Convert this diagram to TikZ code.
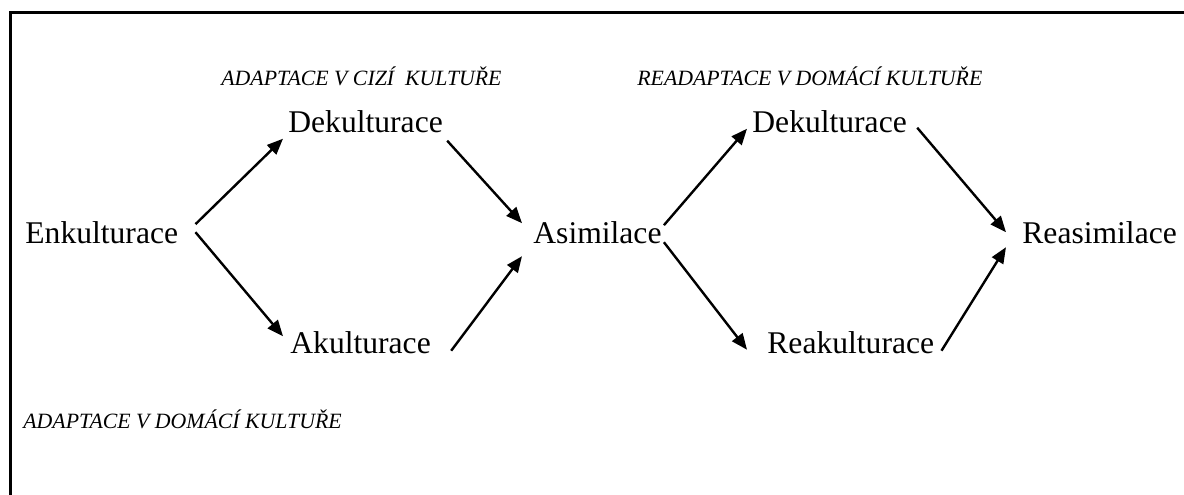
\documentclass[tikz,border=0pt]{standalone}
\usepackage{fontspec}
\setmainfont{Liberation Serif}
\usetikzlibrary{arrows.meta,calc}

\tikzset{
	stage/.style={anchor=base west, inner sep=0pt, font=\fontsize{15.8}{19}\selectfont},
	phase/.style={anchor=base west, inner sep=0pt, font=\fontsize{10.9}{13}\selectfont\itshape},
	arr/.style={line width=1.2pt, -{Triangle[length=8pt,width=6.5pt]}}
}

\begin{document}
\begin{tikzpicture}[x=0.5pt, y=-0.5pt]
	\clip (0,0) rectangle (1184,494);
	% frame
	\draw[line width=1.5pt] (10,12) rectangle (1220,530);
	% phases
	\node[phase] (cizi) at (221,85) {ADAPTACE V CIZÍ\ \ KULTUŘE};
	\node[phase] (readapt) at (637,85) {READAPTACE V DOMÁCÍ KULTUŘE};
	\node[phase] (domaci) at (23,428) {ADAPTACE V DOMÁCÍ KULTUŘE};
	% stages
	\node[stage] (enk) at (25,243) {Enkulturace};
	\node[stage] (dek) at (288,132) {Dekulturace};
	\node[stage] (aku) at (290,353) {Akulturace};
	\node[stage] (asi) at (533,243) {Asimilace};
	\node[stage] (redek) at (752,132) {Dekulturace};
	\node[stage] (reaku) at (767,353) {Reakulturace};
	\node[stage] (reasi) at (1022,243) {Reasimilace};
	% arrows
	\draw[arr] ($(enk.east)+(17,-8)$) -- ($(dek.south west)+(-5,6)$);
	\draw[arr] ($(enk.east)+(17,0)$) -- ($(aku.west)+(-7,-6)$);
	\draw[arr] ($(dek.south east)+(4,8)$) -- ($(asi.west)+(-11,-9)$);
	\draw[arr] ($(aku.south east)+(20,-3)$) -- ($(asi.west)+(-11,24)$);
	\draw[arr] ($(asi.east)+(2,-7)$) -- ($(redek.south west)+(-5,-4)$);
	\draw[arr] ($(asi.east)+(2,10)$) -- ($(reaku.south west)+(-20,-4)$);
	\draw[arr] ($(redek.south east)+(10,-5)$) -- ($(reasi.west)+(-16,0)$);
	\draw[arr] ($(reaku.south east)+(7,-3)$) -- ($(reasi.west)+(-16,15)$);
\end{tikzpicture}
\end{document}
